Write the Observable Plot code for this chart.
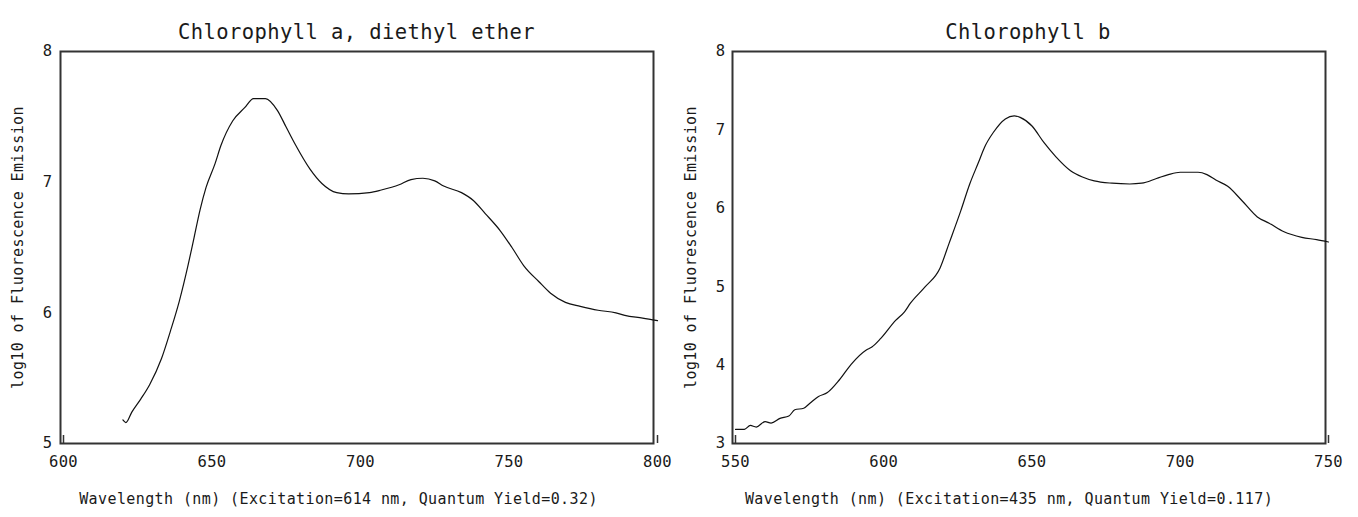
<!DOCTYPE html>
<html>
<head>
<meta charset="utf-8">
<script src="https://cdn.jsdelivr.net/npm/d3@7"></script>
<script src="https://cdn.jsdelivr.net/npm/@observablehq/plot@0.6"></script>
<style>
  html, body { margin: 0; padding: 0; background: #fff; }
  #wrap { position: relative; width: 1358px; height: 517px; overflow: hidden; }
  #wrap > div { position: absolute; top: 0; }
</style>
</head>
<body>
<div id="wrap"><div id="pa" style="left:0px"></div><div id="pb" style="left:679px"></div></div>
<script>
// ---- Chlorophyll a, diethyl ether ----
const titleA = "Chlorophyll a, diethyl ether";
const xLabelA = "Wavelength (nm) (Excitation=614 nm, Quantum Yield=0.32)";
const wavelengthA = [620, 621, 623, 626, 629, 633, 636, 639, 642, 644, 646, 648, 651, 653, 657, 661, 664, 668, 672, 675, 678, 683, 687, 692, 696, 703, 707, 713, 717, 721, 725, 728, 734, 738, 742, 747, 751, 755, 760, 764, 769, 774, 780, 786, 789, 795, 800];
const emissionA   = [5.18, 5.16, 5.24, 5.34, 5.45, 5.65, 5.86, 6.09, 6.37, 6.58, 6.79, 6.96, 7.14, 7.28, 7.47, 7.57, 7.64, 7.64, 7.55, 7.42, 7.29, 7.10, 6.99, 6.92, 6.91, 6.92, 6.94, 6.98, 7.02, 7.03, 7.01, 6.97, 6.92, 6.86, 6.76, 6.63, 6.50, 6.36, 6.24, 6.15, 6.08, 6.05, 6.02, 6.00, 5.98, 5.96, 5.94];
const xTicksA = [600, 650, 700, 750, 800];
const yTicksA = [5, 6, 7, 8];

// ---- Chlorophyll b ----
const titleB = "Chlorophyll b";
const xLabelB = "Wavelength (nm) (Excitation=435 nm, Quantum Yield=0.117)";
const wavelengthB = [550, 553, 555, 557, 560, 562, 565, 568, 570, 573, 575, 578, 581, 585, 589, 594, 596, 599, 604, 607, 609, 614, 619, 622, 626, 629, 632, 634, 637, 641, 644, 646, 650, 654, 658, 663, 667, 671, 677, 683, 687, 692, 696, 700, 706, 709, 712, 716, 721, 726, 730, 735, 741, 746, 750];
const emissionB   = [3.18, 3.18, 3.23, 3.21, 3.28, 3.26, 3.32, 3.35, 3.43, 3.45, 3.51, 3.60, 3.65, 3.81, 4.01, 4.19, 4.23, 4.34, 4.57, 4.68, 4.79, 5.00, 5.24, 5.55, 5.97, 6.31, 6.59, 6.78, 6.97, 7.14, 7.18, 7.16, 7.05, 6.84, 6.66, 6.48, 6.40, 6.35, 6.32, 6.31, 6.32, 6.38, 6.43, 6.46, 6.46, 6.43, 6.36, 6.28, 6.09, 5.89, 5.81, 5.70, 5.63, 5.60, 5.57];
const xTicksB = [550, 600, 650, 700, 750];
const yTicksB = [3, 4, 5, 6, 7, 8];

const yLabel = "log10 of Fluorescence Emission";

function panel({title, xLabel, wl, em, xTicks, yTicks, marginLeft, marginRight, insetL, insetR, yPad, titleDx, xLabelDx, yLabelDx}) {
  const data = wl.map((w, i) => ({w, v: em[i]}));
  const xEnds = [xTicks[0], xTicks[xTicks.length - 1]];
  return Plot.plot({
    width: 679,
    height: 517,
    marginTop: 51,
    marginBottom: 74,
    marginLeft,
    marginRight,
    style: {fontFamily: "'DejaVu Sans Mono', monospace", fontSize: "15px", color: "#1a1a1a", background: "#fff", letterSpacing: "0.4px"},
    x: {domain: [xTicks[0], xTicks[xTicks.length - 1]]},
    y: {domain: [yTicks[0], yTicks[yTicks.length - 1]]},
    marks: [
      Plot.frame({stroke: "#333", strokeWidth: 2, insetLeft: insetL, insetRight: insetR}),
      Plot.tickX(xEnds, {x: d => d, insetTop: 384, stroke: "#333", strokeWidth: 1.5}),
      Plot.axisX({ticks: xTicks, tickSize: 0, tickPadding: 12, label: null, fontSize: 15.5, tickFormat: d => String(d)}),
      Plot.axisY({ticks: yTicks, tickSize: 0, tickPadding: yPad, label: null, fontSize: 15.5, tickFormat: d => String(d)}),
      Plot.line(data, {x: "w", y: "v", stroke: "#111", strokeWidth: 1.2, curve: "monotone-x"}),
      Plot.text([title], {frameAnchor: "top", dy: -27, dx: titleDx, fontSize: 20.5, fill: "#1a1a1a"}),
      Plot.text([xLabel], {frameAnchor: "bottom", dy: 60, dx: xLabelDx, fill: "#1a1a1a"}),
      Plot.text([yLabel], {frameAnchor: "left", textAnchor: "middle", dx: yLabelDx, rotate: -90, fill: "#1a1a1a"})
    ]
  });
}

document.getElementById("pa").append(panel({
  title: titleA, xLabel: xLabelA, wl: wavelengthA, em: emissionA, xTicks: xTicksA, yTicks: yTicksA,
  marginLeft: 63, marginRight: 22, insetL: -3, insetR: 4, yPad: 11, titleDx: -4, xLabelDx: -22, yLabelDx: -45
}));
document.getElementById("pb").append(panel({
  title: titleB, xLabel: xLabelB, wl: wavelengthB, em: emissionB, xTicks: xTicksB, yTicks: yTicksB,
  marginLeft: 56, marginRight: 30, insetL: -3, insetR: 3, yPad: 10, titleDx: -4, xLabelDx: -23, yLabelDx: -44
}));
</script>
</body>
</html>
